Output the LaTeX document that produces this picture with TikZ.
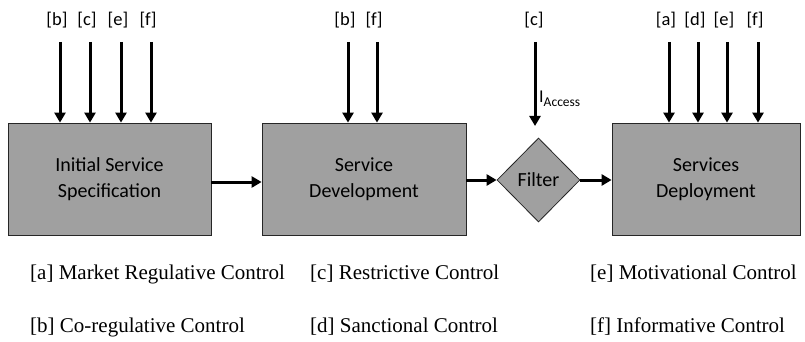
\documentclass[tikz,border=0pt]{standalone}
\usepackage{fontspec}
\setmainfont{Liberation Serif}
\newfontfamily\calfont{Carlito}
\usetikzlibrary{arrows.meta,shapes.geometric}
\definecolor{boxgray}{RGB}{160,160,160}
\tikzset{
  stage/.style={draw=black!85, line width=0.8pt, fill=boxgray, minimum height=112pt,
    align=center, font=\calfont\fontsize{20}{26}\selectfont, inner sep=0pt},
  filterbox/.style={draw=black!85, line width=0.8pt, fill=boxgray, shape=diamond,
    minimum width=83pt, minimum height=84pt, inner sep=0pt, font=\calfont\fontsize{20}{24}\selectfont},
  arr/.style={line width=3pt, -{Triangle[width=11pt,length=10pt]}},
  toplab/.style={font=\calfont\fontsize{18.5}{20}\selectfont, inner sep=0pt},
  legend/.style={font=\fontsize{21}{24}\selectfont, anchor=west, inner sep=0pt}
}
\begin{document}
\begin{tikzpicture}[x=1pt,y=-1pt]
\useasboundingbox (0,0) rectangle (805,342);
% stages
\node[stage, minimum width=203pt] (b1) at (109.5,179) {Initial Service\\Specification};
\node[stage, minimum width=204pt] (b2) at (364,179) {Service\\Development};
\node[filterbox] (flt) at (538.5,180) {Filter};
\node[stage, minimum width=188pt] (b3) at (706,179) {Services\\Deployment};
% horizontal arrows
\draw[arr] ([yshift=-3pt]b1.east) -- ([yshift=-3pt]b1.east -| b2.west);
\draw[arr] ([yshift=-1pt]b2.east) -- (flt.west);
\draw[arr] (flt.east) -- (flt.east -| b3.west);
% top control arrows, box 1
\foreach \n/\x/\l in {a1/60/b, a2/90/c, a3/121/e, a4/151/f}{
  \coordinate (\n) at (\x,42);
  \node[toplab] (\n l) at (\x-3,20) {[\l]};
  \draw[arr] (\n) -- (\n |- b1.north);
}
% box 2
\foreach \n/\x/\l in {c1/348/b, c2/377/f}{
  \coordinate (\n) at (\x,42);
  \node[toplab] (\n l) at (\x-3,20) {[\l]};
  \draw[arr] (\n) -- (\n |- b2.north);
}
% filter
\coordinate (f1) at (535,42);
\node[toplab] (f1l) at (534,20) {[c]};
\draw[arr] (f1) -- (535,126);
\node[anchor=west, inner sep=0pt, font=\calfont\fontsize{18}{18}\selectfont] (iacc) at (539,99)
  {I\raisebox{-4pt}{\fontsize{13.5}{14}\selectfont Access}};
% box 3
\foreach \n/\x/\l in {d1/669/a, d2/698/d, d3/727/e, d4/758/f}{
  \coordinate (\n) at (\x,42);
  \node[toplab] (\n l) at (\x-3,20) {[\l]};
  \draw[arr] (\n) -- (\n |- b3.north);
}
% legend
\node[legend] (la) at (30,274) {[a] Market Regulative Control};
\node[legend] (lb) at (30,327) {[b] Co-regulative Control};
\node[legend] (lc) at (310,274) {[c] Restrictive Control};
\node[legend] (ld) at (310,327) {[d] Sanctional Control};
\node[legend] (le) at (590,274) {[e] Motivational Control};
\node[legend] (lf) at (590,327) {[f] Informative Control};
\end{tikzpicture}
\end{document}
